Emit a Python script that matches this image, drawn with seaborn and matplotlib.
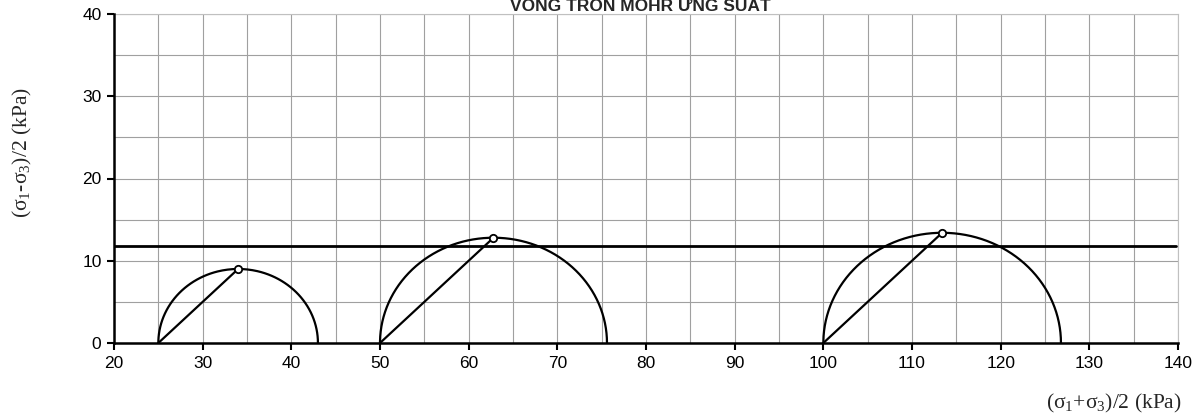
import numpy as np
import pandas as pd
import matplotlib
matplotlib.use("Agg")
import matplotlib.pyplot as plt
from matplotlib.ticker import MultipleLocator
import seaborn as sns

# Test results: minor and major principal stresses (kPa)
sigma3 = [25.0, 50.0, 100.0]
sigma1 = [43.0, 75.6, 126.8]
# Undrained shear strength envelope (kPa)
cu = 11.8

x_ticks = [20, 30, 40, 50, 60, 70, 80, 90, 100, 110, 120, 130, 140]
y_ticks = [0, 10, 20, 30, 40]

sns.set_theme(style="white")
plt.rcParams["font.family"] = ["Liberation Sans", "DejaVu Sans"]

fig = plt.figure(figsize=(12.03, 4.16), dpi=100)
ax = fig.add_axes([114 / 1203, 1 - 343 / 416, (1178 - 114) / 1203, (343 - 14) / 416])

# Mohr circles, stress-path lines and peak points
for s3, s1 in zip(sigma3, sigma1):
    p = (s1 + s3) / 2
    q = (s1 - s3) / 2
    t = np.linspace(0, np.pi, 200)
    circ = pd.DataFrame({"p": p + q * np.cos(t), "q": q * np.sin(t)})
    sns.lineplot(data=circ, x="p", y="q", sort=False, estimator=None,
                 color="black", linewidth=1.6, ax=ax, zorder=3)
    path = pd.DataFrame({"p": [s3, p], "q": [0, q]})
    sns.lineplot(data=path, x="p", y="q", sort=False, estimator=None,
                 color="black", linewidth=1.6, ax=ax, zorder=3)
    sns.scatterplot(x=[p], y=[q], marker="o", s=28, facecolor="white",
                    edgecolor="black", linewidth=1.3, ax=ax, zorder=5)

# Strength envelope
env = pd.DataFrame({"p": [x_ticks[0], x_ticks[-1] - 0.2], "q": [cu, cu]})
sns.lineplot(data=env, x="p", y="q", color="black", linewidth=2.0, ax=ax, zorder=4)

ax.set_xlim(x_ticks[0], x_ticks[-1])
ax.set_ylim(y_ticks[0], y_ticks[-1])
ax.set_xticks(x_ticks)
ax.set_yticks(y_ticks)
ax.xaxis.set_minor_locator(MultipleLocator(5))
ax.yaxis.set_minor_locator(MultipleLocator(5))
ax.grid(which="both", color="#a0a0a0", linewidth=0.8)
ax.set_axisbelow(True)

for side in ("top", "right"):
    ax.spines[side].set_color("#c0c0c0")
    ax.spines[side].set_linewidth(0.8)
for side in ("left", "bottom"):
    ax.spines[side].set_color("black")
    ax.spines[side].set_linewidth(1.8)
    ax.spines[side].set_zorder(6)

ax.tick_params(axis="both", which="major", direction="out", length=5, width=1.5,
               color="black", labelsize=12.5, labelcolor="black", pad=4,
               bottom=True, left=True)
ax.tick_params(axis="both", which="minor", length=0)

ax.set_xlabel("")
ax.set_ylabel("")

serif = ["Liberation Serif", "DejaVu Serif"]
fig.text(22 / 1203, 1 - 153 / 416, r"($\mathregular{\sigma_1}$-$\mathregular{\sigma_3}$)/2 (kPa)",
         rotation=90, ha="center", va="center", fontsize=15.5, family=serif)
fig.text(1182 / 1203, 1 - 403 / 416, r"($\mathregular{\sigma_1}$+$\mathregular{\sigma_3}$)/2 (kPa)",
         ha="right", va="center", fontsize=15.5, family=serif)

fig.text(640 / 1203, 1 - 11 / 416, "VÒNG TRÒN MOHR ỨNG SUẤT", ha="center", va="baseline",
         fontsize=12.5, fontweight="bold")

fig.savefig("out.png", dpi=100)
